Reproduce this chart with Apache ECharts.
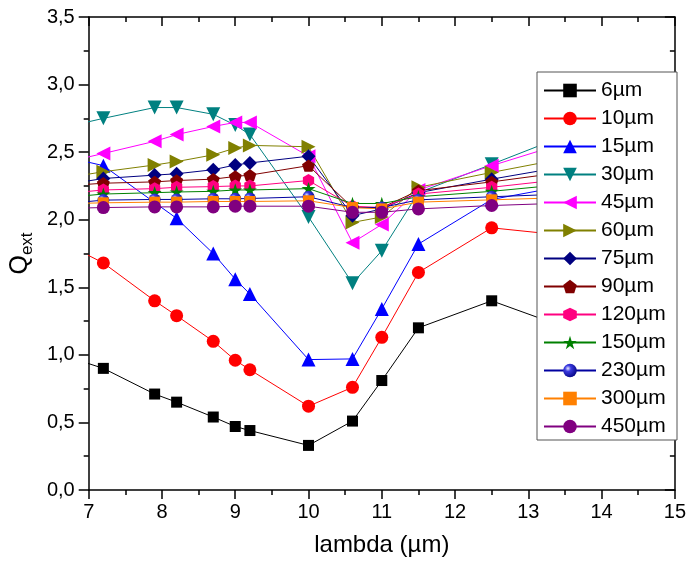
<!DOCTYPE html>
<html>
<head>
<meta charset="utf-8">
<script src="https://cdn.jsdelivr.net/npm/echarts@6/dist/echarts.min.js"></script>
<style>html,body{margin:0;padding:0;background:#fff;}#c{width:689px;height:562px;}</style>
</head>
<body>
<div id="c"></div>
<script>
// Wavelength (µm); first point lies left of the visible range, last one on the right frame
const lambda = [6.8, 7.2, 7.9, 8.2, 8.7, 9.0, 9.2, 10.0, 10.6, 11.0, 11.5, 12.5, 15.0];
const seriesNames = ['6µm','10µm','15µm','30µm','45µm','60µm','75µm','90µm','120µm','150µm','230µm','300µm','450µm'];
const q6   = [0.97, 0.90, 0.71, 0.65, 0.54, 0.47, 0.44, 0.33, 0.51, 0.81, 1.20, 1.40, 0.91];
const q10  = [1.79, 1.68, 1.40, 1.29, 1.10, 0.96, 0.89, 0.62, 0.76, 1.13, 1.61, 1.94, 1.80];
const q15  = [2.45, 2.40, null, 2.01, 1.75, 1.56, 1.45, 0.965, 0.97, 1.34, 1.82, 2.15, 2.40];
const q30  = [2.70, 2.75, 2.83, 2.83, 2.78, 2.70, 2.63, 2.02, 1.53, 1.77, 2.20, 2.41, 2.94];
const q45  = [2.44, 2.49, 2.58, 2.63, 2.69, 2.72, 2.72, 2.47, 1.83, 1.965, 2.22, 2.40, 2.82];
const q60  = [2.32, 2.355, 2.405, 2.43, 2.48, 2.53, 2.55, 2.54, 1.98, 2.02, 2.24, 2.35, 2.61];
const q75  = [2.27, 2.305, 2.33, 2.34, 2.37, 2.405, 2.42, 2.47, 2.03, 2.08, 2.20, 2.30, 2.535];
const q90  = [2.255, 2.27, 2.28, 2.29, 2.30, 2.32, 2.33, 2.40, 2.09, 2.09, 2.215, 2.28, 2.46];
const q120 = [2.20, 2.22, 2.23, 2.24, 2.245, 2.25, 2.25, 2.29, 2.10, 2.09, 2.19, 2.24, 2.39];
const q150 = [2.17, 2.19, 2.20, 2.205, 2.21, 2.22, 2.22, 2.23, 2.12, 2.12, 2.17, 2.21, 2.34];
const q230 = [2.125, 2.145, 2.15, 2.15, 2.155, 2.155, 2.157, 2.17, 2.09, 2.09, 2.147, 2.17, 2.22];
const q300 = [2.12, 2.125, 2.13, 2.13, 2.135, 2.135, 2.135, 2.14, 2.09, 2.08, 2.13, 2.147, 2.19];
const q450 = [2.085, 2.09, 2.095, 2.095, 2.095, 2.10, 2.10, 2.10, 2.055, 2.055, 2.08, 2.105, 2.15];
const yTicks = [0, 0.5, 1.0, 1.5, 2.0, 2.5, 3.0, 3.5];
const xTicks = [7, 8, 9, 10, 11, 12, 13, 14, 15];

const allValues = [q6, q10, q15, q30, q45, q60, q75, q90, q120, q150, q230, q300, q450];

const PENTAGON = 'path://M0,-1L0.951,-0.309L0.588,0.809L-0.588,0.809L-0.951,-0.309Z';
const HEXAGON = 'path://M0,-1L0.866,-0.5L0.866,0.5L0,1L-0.866,0.5L-0.866,-0.5Z';
const STAR = 'path://M0,-1L0.2245,-0.309L0.951,-0.309L0.363,0.118L0.588,0.809L0,0.382L-0.588,0.809L-0.363,0.118L-0.951,-0.309L-0.2245,-0.309Z';
const sphere = {type:'radial', x:0.35, y:0.35, r:0.75, colorStops:[{offset:0,color:'#e8e8ff'},{offset:0.3,color:'#3a3ae0'},{offset:1,color:'#00007a'}]};

const styles = [
  {color:'#000000', symbol:'rect', size:11, rot:0},
  {color:'#ff0000', symbol:'circle', size:13, rot:0},
  {color:'#0000ff', symbol:'triangle', size:14, rot:0},
  {color:'#008080', symbol:'triangle', size:14, rot:180},
  {color:'#ff00ff', symbol:'triangle', size:14, rot:90},
  {color:'#808000', symbol:'triangle', size:14, rot:-90},
  {color:'#000080', symbol:'diamond', size:14, rot:0},
  {color:'#800000', symbol:PENTAGON, size:13, rot:0},
  {color:'#ff0080', symbol:HEXAGON, size:13, rot:0},
  {color:'#008000', symbol:STAR, size:14, rot:0},
  {color:'#0000a0', symbol:'circle', size:12, rot:0, fill:sphere},
  {color:'#ff8000', symbol:'rect', size:11, rot:0},
  {color:'#800080', symbol:'circle', size:13, rot:0}
];

const FONT = '"Liberation Sans", Arial, sans-serif';

const series = seriesNames.map((name, k) => {
  const st = styles[k];
  const vals = allValues[k];
  const data = lambda.map((x, i) => {
    const v = vals[i] === null ? '-' : vals[i];
    if (i === lambda.length - 1) return {value: [x, v], symbol: 'none'};
    return [x, v];
  });
  return {
    name: name,
    type: 'line',
    xAxisIndex: 0, yAxisIndex: 0,
    data: data,
    connectNulls: true,
    clip: true,
    symbol: st.symbol,
    symbolSize: st.size,
    symbolRotate: st.rot,
    symbolKeepAspect: true,
    showAllSymbol: true,
    lineStyle: {color: st.color, width: 1},
    itemStyle: {color: st.fill || st.color, borderWidth: 0},
    emphasis: {disabled: true},
    animation: false
  };
});

const fmt = v => v.toFixed(1).replace('.', ',');

const chart = echarts.init(document.getElementById('c'), null, {renderer: 'canvas'});
chart.setOption({
  animation: false,
  backgroundColor: '#ffffff',
  grid: {left: 87, right: 14, top: 17, bottom: 70, containLabel: false},
  xAxis: [
    {
      type: 'value', min: xTicks[0], max: xTicks[xTicks.length-1], interval: 1,
      position: 'bottom',
      name: 'lambda (µm)', nameLocation: 'middle', nameGap: 43,
      nameTextStyle: {fontFamily: FONT, fontSize: 24, color: '#000'},
      axisLine: {show: true, onZero: false, lineStyle: {color: '#000', width: 1.5}},
      axisTick: {show: true, inside: false, length: 9, lineStyle: {color: '#000', width: 1.5}},
      minorTick: {show: true, splitNumber: 2, length: 5, lineStyle: {color: '#000', width: 1.5}},
      axisLabel: {fontFamily: FONT, fontSize: 20, color: '#000', margin: 12},
      splitLine: {show: false}
    },
    {
      type: 'value', min: xTicks[0], max: xTicks[xTicks.length-1], interval: 1,
      position: 'top',
      axisLine: {show: true, onZero: false, lineStyle: {color: '#000', width: 1.5}},
      axisTick: {show: true, inside: true, length: 9, lineStyle: {color: '#000', width: 1.5}},
      minorTick: {show: true, splitNumber: 2, length: 5, lineStyle: {color: '#000', width: 1.5}},
      axisLabel: {show: false},
      splitLine: {show: false}
    }
  ],
  yAxis: [
    {
      type: 'value', min: yTicks[0], max: yTicks[yTicks.length-1], interval: 0.5,
      position: 'left',
      name: '{q|Q}{s|ext}', nameLocation: 'middle', nameGap: 50, nameRotate: 90,
      nameTextStyle: {
        fontFamily: FONT, color: '#000',
        rich: {
          q: {fontFamily: FONT, fontSize: 25, color: '#000', verticalAlign: 'middle'},
          s: {fontFamily: FONT, fontSize: 17, color: '#000', padding: [14, 0, 0, 0], verticalAlign: 'middle'}
        }
      },
      axisLine: {show: true, onZero: false, lineStyle: {color: '#000', width: 1.5}},
      axisTick: {show: true, inside: false, length: 10, lineStyle: {color: '#000', width: 1.5}},
      minorTick: {show: true, splitNumber: 2, length: 5, lineStyle: {color: '#000', width: 1.5}},
      axisLabel: {fontFamily: FONT, fontSize: 20, color: '#000', margin: 14, formatter: fmt},
      splitLine: {show: false}
    },
    {
      type: 'value', min: yTicks[0], max: yTicks[yTicks.length-1], interval: 0.5,
      position: 'right',
      axisLine: {show: true, onZero: false, lineStyle: {color: '#000', width: 1.5}},
      axisTick: {show: true, inside: true, length: 10, lineStyle: {color: '#000', width: 1.5}},
      minorTick: {show: true, splitNumber: 2, length: 5, lineStyle: {color: '#000', width: 1.5}},
      axisLabel: {show: false},
      splitLine: {show: false}
    }
  ],
  legend: {
    show: true,
    orient: 'vertical',
    left: 537, top: 72,
    padding: [8, 6, 3, 6],
    itemGap: 7,
    itemWidth: 52, itemHeight: 17,
    backgroundColor: '#ffffff',
    borderColor: '#555555', borderWidth: 1,
    textStyle: {fontFamily: FONT, fontSize: 21, lineHeight: 21, color: '#000', width: 70},
    data: seriesNames
  },
  series: series
});
</script>
</body>
</html>
